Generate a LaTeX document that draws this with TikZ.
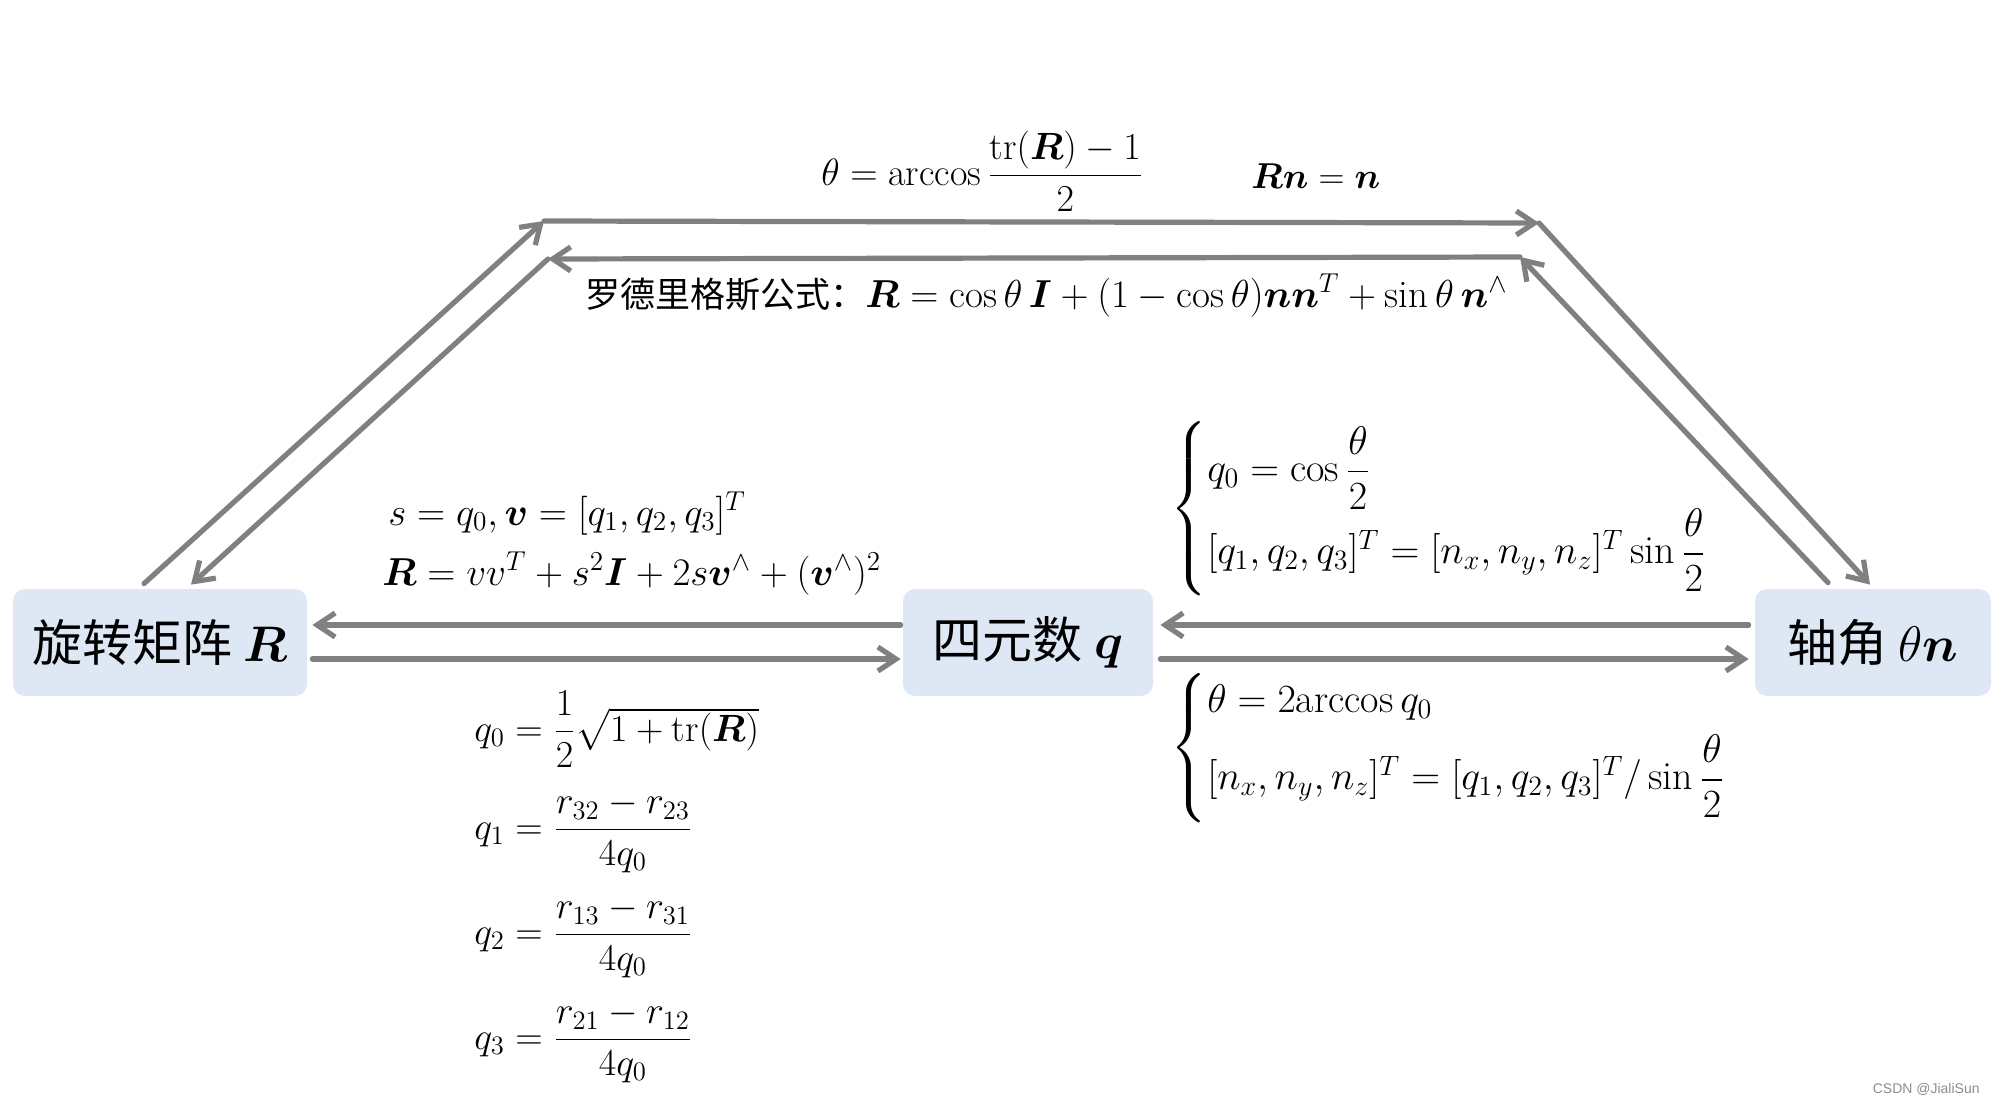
\RequirePackage{fix-cm}
\documentclass[tikz,border=0pt]{standalone}
\usepackage{amsmath}
\usepackage{bm}
\usepackage{fontspec}
\newfontfamily\cjk{Noto Sans CJK SC}
\newfontfamily\wmfont{Liberation Sans}
\usetikzlibrary{arrows.meta}
\definecolor{boxfill}{HTML}{DEE8F5}
\definecolor{arrgray}{HTML}{808080}
\begin{document}
\begin{tikzpicture}[x=0.5pt,y=-0.5pt,
  box/.style={fill=boxfill, rounded corners=6pt, inner sep=0pt, minimum height=53.5pt, font=\cjk\fontsize{25}{30}\selectfont},
  conn/.style={draw=arrgray, line width=2.6pt, line cap=round, -{Straight Barb[length=9pt,width=12pt]}},
  eq/.style={inner sep=0pt, anchor=base west, font=\fontsize{19.5}{23}\selectfont},
  caseeq/.style={inner sep=0pt, anchor=west, font=\fontsize{20}{24}\selectfont},
  fraceq/.style={inner sep=0pt, anchor=base west, font=\fontsize{19}{23}\selectfont},
]
\useasboundingbox (0,0) rectangle (1995,1103);
\node[box, minimum width=147pt] (R) at (160,642.5) {旋转矩阵 $\bm{R}$};
\node[box, minimum width=125pt] (Q) at (1028,642.5) {四元数 $\bm{q}$};
\node[box, minimum width=118pt] (T) at (1873,642.5) {轴角 $\theta\bm{n}$};

% horizontal connectors
\draw[conn] ([xshift=-1pt,yshift=8.75pt]Q.west) -- ([xshift=2.5pt,yshift=8.75pt]R.east);
\draw[conn] ([xshift=2.5pt,yshift=-8.25pt]R.east) -- ([xshift=-1pt,yshift=-8.25pt]Q.west);
\draw[conn] ([xshift=-3pt,yshift=8.75pt]T.west) -- ([xshift=3.5pt,yshift=8.75pt]Q.east);
\draw[conn] ([xshift=3.5pt,yshift=-8.25pt]Q.east) -- ([xshift=-3pt,yshift=-8.25pt]T.west);

% top route
\coordinate (otl) at (544,221);
\coordinate (otr) at (1539,223);
\coordinate (itr) at (1520,257);
\coordinate (itl) at (548,259);
\draw[conn] ([shift={(-8pt,2.5pt)}]R.north) -- (otl);
\draw[conn] (otl) -- (otr);
\draw[conn] (otr) -- ([shift={(-1.5pt,2pt)}]T.north);
\draw[conn] ([shift={(-22.5pt,3pt)}]T.north) -- (itr);
\draw[conn] (itr) -- (itl);
\draw[conn] (itl) -- ([shift={(15.5pt,2pt)}]R.north);

% formulas
\node[eq, font=\fontsize{19}{22}\selectfont] (e1) at (821,185) {$\theta=\arccos\dfrac{\mathrm{tr}(\bm{R})-1}{2}$};
\node[eq, font=\fontsize{18}{21}\selectfont] (e2) at (1251,188) {$\bm{R}\bm{n}=\bm{n}$};
\node[eq, font=\fontsize{19.5}{23}\selectfont] (e3) at (585,307) {{\cjk\fontsize{17.5}{20}\selectfont 罗德里格斯公式：}$\bm{R}=\cos\theta\,\bm{I}+(1-\cos\theta)\bm{n}\bm{n}^T+\sin\theta\,\bm{n}^\wedge$};
\node[eq] (e4) at (388,525) {$s=q_0,\bm{v}=[q_1,q_2,q_3]^T$};
\node[eq] (e5) at (382,585) {$\bm{R}=vv^T+s^2\bm{I}+2s\bm{v}^\wedge+(\bm{v}^\wedge)^2$};

\node[caseeq] (e6) at (1170,509) {$\left\{\begin{array}{@{}l@{}}q_0=\cos\dfrac{\theta}{2}\\[4pt] [q_1,q_2,q_3]^T=[n_x,n_y,n_z]^T\sin\dfrac{\theta}{2}\end{array}\right.$};
\node[caseeq] (e7) at (1170,748) {$\left\{\begin{array}{@{}l@{}}\theta=2\mathrm{arccos}\,q_0\\[4pt] [n_x,n_y,n_z]^T=[q_1,q_2,q_3]^T/\sin\dfrac{\theta}{2}\end{array}\right.$};

\node[fraceq] (e8) at (474,741) {$q_0=\dfrac{1}{2}\sqrt{1+\mathrm{tr}(\bm{R})}$};
\node[fraceq] (e9) at (474,839) {$q_1=\dfrac{r_{32}-r_{23}}{4q_0}$};
\node[fraceq] (e10) at (474,944) {$q_2=\dfrac{r_{13}-r_{31}}{4q_0}$};
\node[fraceq] (e11) at (474,1049) {$q_3=\dfrac{r_{21}-r_{12}}{4q_0}$};

\node[anchor=base east, inner sep=0pt, text=black!45, font=\wmfont\fontsize{7}{8}\selectfont] (wm) at (1980,1093) {CSDN @JialiSun};
\end{tikzpicture}
\end{document}
